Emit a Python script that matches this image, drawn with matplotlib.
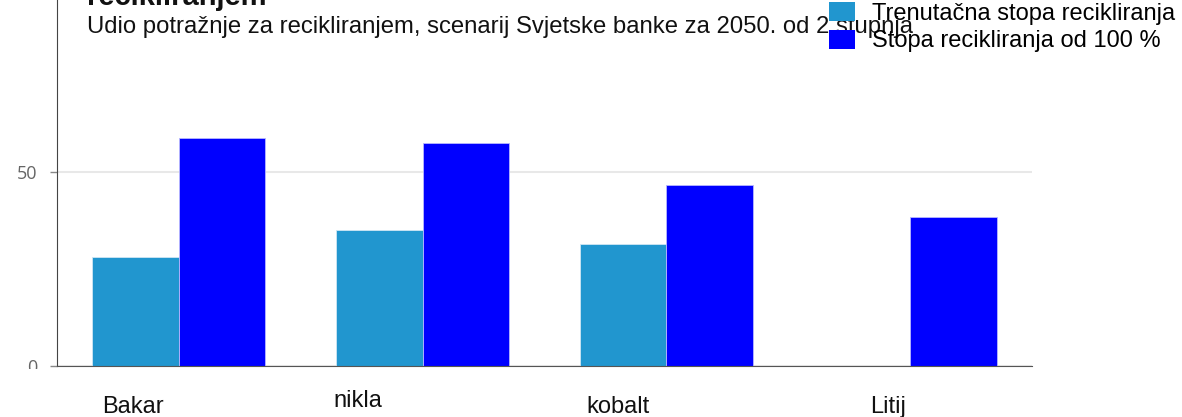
import numpy as np
import matplotlib
matplotlib.use('Agg')
import matplotlib.pyplot as plt
from matplotlib.patches import Patch, Rectangle

# share of demand met by recycling, World Bank 2 degree scenario for 2050
categories = ['Bakar', 'nikla', 'kobalt', 'Litij']
current_rate = [28.0, 34.9, 31.4, np.nan]   # no value for lithium
full_rate = [58.7, 57.5, 46.5, 38.3]
series_names = ['Trenutačna stopa recikliranja', 'Stopa recikliranja od 100 %']
series_colors = ['#2196cf', '#0000ff']

W, H = 1182, 417
fig = plt.figure(figsize=(W / 100, H / 100), dpi=100)
ax = fig.add_axes([57 / W, 51 / H, 975 / W, 366 / H])

x = np.arange(len(categories))
w = 0.355
ax.bar(x - w / 2, current_rate, w, color=series_colors[0],
       edgecolor='#cfe6f4', linewidth=0.6)
ax.bar(x + w / 2, full_rate, w, color=series_colors[1],
       edgecolor='#b8b8ff', linewidth=0.6)

ax.set_xlim(-0.5, 3.5)
ax.set_ylim(0, 94.2)
ax.set_yticks([0, 50])
ax.set_xticks([])
ax.yaxis.grid(True, color='#e8e8e8', linewidth=1.5)
ax.set_axisbelow(True)
for s in ['top', 'right']:
    ax.spines[s].set_visible(False)
ax.spines['left'].set_color('#444444')
ax.spines['bottom'].set_color('#555555')
ax.tick_params(axis='y', length=5, width=1, color='#888888', pad=9,
               labelsize=13, labelcolor='#666666')

# the bottom tick label gets trimmed just under the baseline
trim = Rectangle((0, 48 / H), 1, 1, transform=fig.transFigure)
for lbl in ax.get_yticklabels():
    lbl.set_fontfamily('Open Sans')
    lbl.set_clip_path(trim)
    lbl.set_clip_on(True)

# category labels sit a little off the group centres
label_x = [-0.189, 0.734, 1.80, 2.909]
label_y = [-0.129, -0.111, -0.129, -0.129]
for name, lx, ly in zip(categories, label_x, label_y):
    ax.text(lx, ly, name, transform=ax.get_xaxis_transform(),
            ha='center', va='baseline', fontsize=17,
            family='Liberation Sans', color='#111111')

fig.text(87 / W, 1 - 5 / H, 'recikliranjem', fontsize=21, fontweight='bold',
         family='Liberation Sans', va='baseline', color='#111111')
fig.text(87 / W, 1 - 33.3 / H,
         'Udio potražnje za recikliranjem, scenarij Svjetske banke za 2050. od 2 stupnja',
         fontsize=17.2, family='Liberation Sans', va='baseline', color='#111111')

handles = [Patch(facecolor=c, edgecolor='none') for c in series_colors]
fig.legend(handles, series_names, loc='upper left',
           bbox_to_anchor=(829 / W, 1 - 2 / H), frameon=False,
           prop={'family': 'Liberation Sans', 'size': 17},
           handlelength=1.1, handleheight=0.85, handletextpad=0.72,
           labelspacing=0.22, borderpad=0, borderaxespad=0)

fig.savefig('out.png', dpi=100)
